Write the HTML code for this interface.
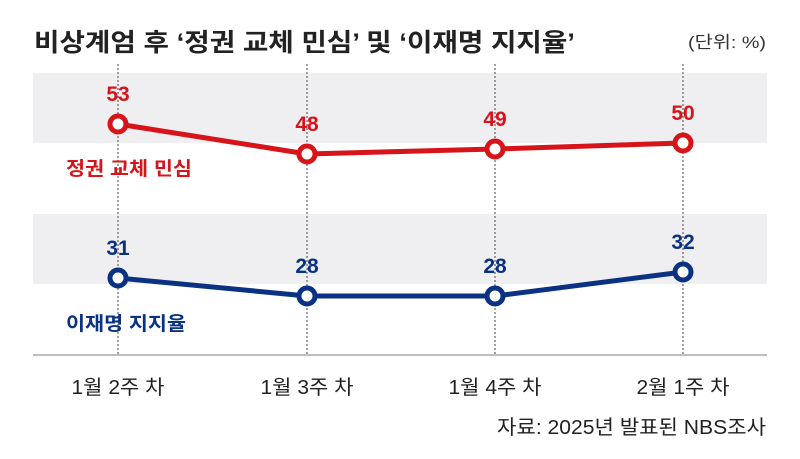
<!DOCTYPE html>
<html><head><meta charset="utf-8"><style>body{margin:0;background:#fff}</style></head>
<body>
<svg width="800" height="459" xmlns="http://www.w3.org/2000/svg" style="display:block;font-family:'Liberation Sans','Noto Sans CJK KR',sans-serif">
<text x="34" y="51" font-size="25" font-weight="bold" fill="#222" textLength="541" lengthAdjust="spacingAndGlyphs">비상계엄 후 ‘정권 교체 민심’ 및 ‘이재명 지지율’</text>
<text x="766" y="48" font-size="17" fill="#333" text-anchor="end" textLength="78" lengthAdjust="spacingAndGlyphs">(단위: %)</text>
<rect x="33" y="73" width="734" height="70" fill="#efeff1"/>
<rect x="33" y="214" width="734" height="70" fill="#efeff1"/>
<g stroke="#444" stroke-width="1" stroke-dasharray="2,2">
<line x1="118" y1="64" x2="118" y2="355"/><line x1="307" y1="64" x2="307" y2="355"/>
<line x1="495" y1="64" x2="495" y2="355"/><line x1="683" y1="64" x2="683" y2="355"/>
</g>
<line x1="33" y1="355" x2="767" y2="355" stroke="#aaa" stroke-width="1.5"/>
<polyline points="118,124 307,154 495,149 683,143" fill="none" stroke="#d7141a" stroke-width="5"/>
<polyline points="118,278 307,296 495,296 683,272" fill="none" stroke="#0b3282" stroke-width="5"/>
<g fill="#fff" stroke="#d7141a" stroke-width="5">
<circle cx="118" cy="124" r="8"/><circle cx="307" cy="154" r="8"/><circle cx="495" cy="149" r="8"/><circle cx="683" cy="143" r="8"/></g>
<g fill="#fff" stroke="#0b3282" stroke-width="5">
<circle cx="118" cy="278" r="8"/><circle cx="307" cy="296" r="8"/><circle cx="495" cy="296" r="8"/><circle cx="683" cy="272" r="8"/></g>
<g font-size="21" font-weight="bold" fill="#d7141a" text-anchor="middle">
<text x="118" y="101">53</text><text x="307" y="131">48</text><text x="495" y="126">49</text><text x="683" y="120">50</text></g>
<g font-size="21" font-weight="bold" fill="#0b3282" text-anchor="middle">
<text x="118" y="255">31</text><text x="307" y="273">28</text><text x="495" y="273">28</text><text x="683" y="249">32</text></g>
<text x="66" y="175" font-size="19" font-weight="bold" fill="#d7141a" textLength="126" lengthAdjust="spacingAndGlyphs">정권 교체 민심</text>
<text x="66" y="330" font-size="19" font-weight="bold" fill="#0b3282" textLength="120" lengthAdjust="spacingAndGlyphs">이재명 지지율</text>
<g font-size="20" fill="#222" text-anchor="middle">
<text x="118" y="394" textLength="93" lengthAdjust="spacingAndGlyphs">1월 2주 차</text><text x="307" y="394" textLength="93" lengthAdjust="spacingAndGlyphs">1월 3주 차</text><text x="495" y="394" textLength="93" lengthAdjust="spacingAndGlyphs">1월 4주 차</text><text x="683" y="394" textLength="93" lengthAdjust="spacingAndGlyphs">2월 1주 차</text></g>
<text x="766" y="434" font-size="20" fill="#222" text-anchor="end" textLength="269" lengthAdjust="spacingAndGlyphs">자료: 2025년 발표된 NBS조사</text>
</svg>
</body></html>
